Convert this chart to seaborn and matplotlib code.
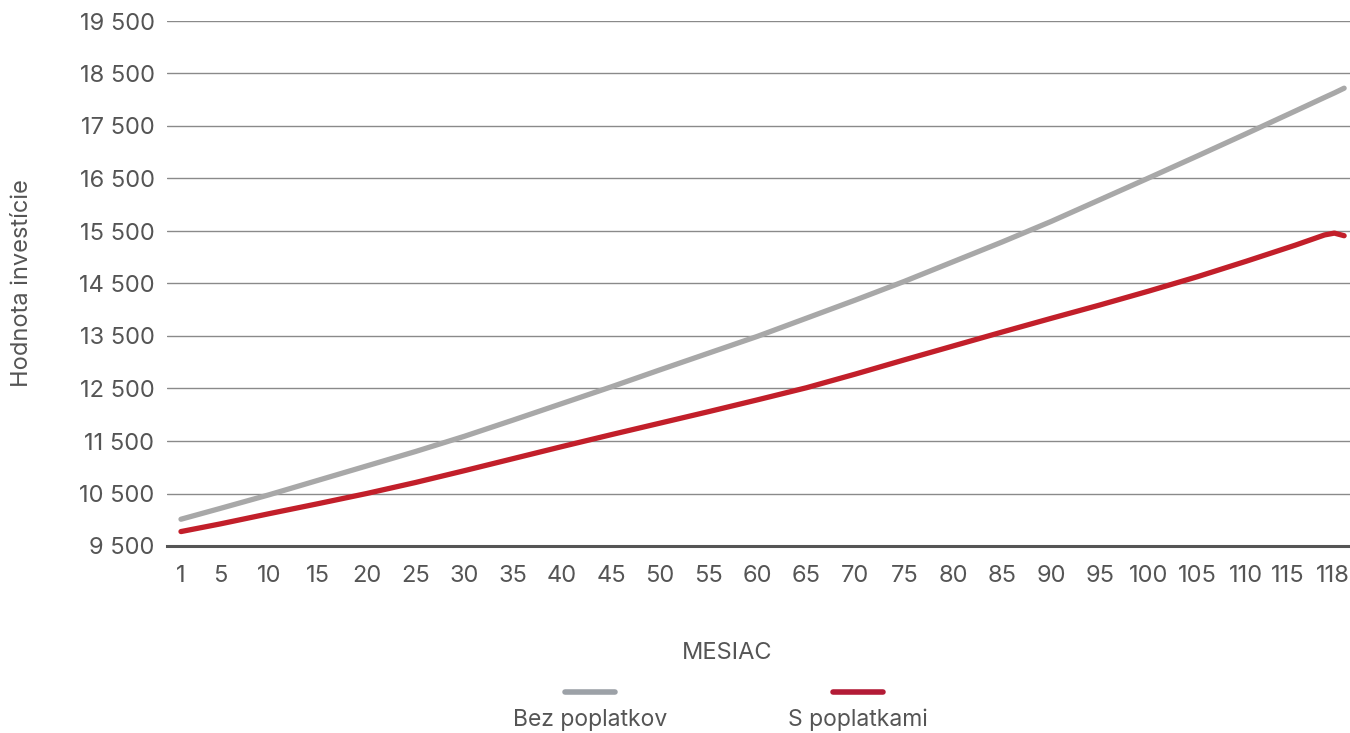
import pandas as pd
import seaborn as sns
import matplotlib.pyplot as plt
import matplotlib.transforms as mtransforms
from matplotlib.lines import Line2D
from matplotlib.ticker import FuncFormatter

# values at the labelled months
months = [1, 5, 10, 15, 20, 25, 30, 35, 40, 45, 50, 55, 60, 65, 70, 75,
          80, 85, 90, 95, 100, 105, 110, 115, 118, 119, 120]
bez_poplatkov = [10010, 10215, 10475, 10750, 11025, 11300, 11590, 11900, 12215,
                 12530, 12855, 13175, 13495, 13840, 14185, 14540, 14915, 15290,
                 15680, 16095, 16510, 16930, 17355, 17785, 18045, 18130, 18220]
s_poplatkami = [9775, 9920, 10115, 10305, 10500, 10710, 10935, 11165, 11395,
                11620, 11840, 12060, 12285, 12515, 12775, 13045, 13310, 13575,
                13835, 14090, 14355, 14630, 14925, 15230, 15425, 15460, 15410]

x_ticks = [1, 5, 10, 15, 20, 25, 30, 35, 40, 45, 50, 55, 60, 65, 70, 75, 80,
           85, 90, 95, 100, 105, 110, 115, 118]
y_ticks = list(range(9500, 19501, 1000))

series_names = ["Bez poplatkov", "S poplatkami"]
colors = {"Bez poplatkov": "#a8a8a8", "S poplatkami": "#c21f2a"}
legend_colors = ["#9ca1a7", "#b31b36"]

df = pd.DataFrame({
    "Mesiac": months * 2,
    "Hodnota": bez_poplatkov + s_poplatkami,
    "Séria": [series_names[0]] * len(months) + [series_names[1]] * len(months),
})

sns.set_style("white")
plt.rcParams["font.family"] = ["Inter", "DejaVu Sans"]
text_col = "#555555"

fig = plt.figure(figsize=(13.5, 7.33), dpi=100)
ax = fig.add_axes([167 / 1350, 1 - 546 / 733, 1 - 167 / 1350, (546 - 21) / 733])

sns.lineplot(data=df, x="Mesiac", y="Hodnota", hue="Séria", palette=colors,
             linewidth=3.8, ax=ax, legend=False, zorder=3,
             solid_capstyle="round")

ax.set_xlim(-0.43, 120.6)
ax.set_ylim(9500, 19500)
ax.set_xticks(x_ticks)
ax.set_xticklabels([str(t) for t in x_ticks])
ax.set_yticks(y_ticks)
ax.yaxis.set_major_formatter(FuncFormatter(lambda v, p: f"{v:,.0f}".replace(",", " ")))
ax.tick_params(axis="both", length=0, labelsize=17, colors=text_col)
ax.tick_params(axis="x", pad=14)
ax.tick_params(axis="y", pad=9)

ax.yaxis.grid(True, color="#8a8a8a", linewidth=1.0)
ax.xaxis.grid(False)
for side in ["top", "right", "left"]:
    ax.spines[side].set_visible(False)
ax.spines["bottom"].set_color("#555555")
ax.spines["bottom"].set_linewidth(2.2)

ax.set_xlabel("MESIAC", fontsize=17, color=text_col)
ax.xaxis.set_label_coords((727 - 167) / 1183, -0.183)
ax.set_ylabel("Hodnota investície", fontsize=17, color=text_col)
ax.yaxis.set_label_coords(-0.113, 0.5)

# keep the two last month labels apart
fig.canvas.draw()
for lbl in ax.get_xticklabels():
    shift = {"115": -8, "118": 8}.get(lbl.get_text(), 0)
    if shift:
        lbl.set_transform(lbl.get_transform() +
                          mtransforms.ScaledTranslation(shift / 100, 0, fig.dpi_scale_trans))

# legend: swatch above the text
for name, col, cx in zip(series_names, legend_colors, [590, 858]):
    fig.add_artist(Line2D([(cx - 25) / 1350, (cx + 25) / 1350],
                          [1 - 692 / 733, 1 - 692 / 733],
                          color=col, linewidth=4, solid_capstyle="round"))
    fig.text(cx / 1350, 1 - 720 / 733, name, ha="center", va="center",
             fontsize=16.5, color=text_col)

fig.savefig("out.png", dpi=100)
